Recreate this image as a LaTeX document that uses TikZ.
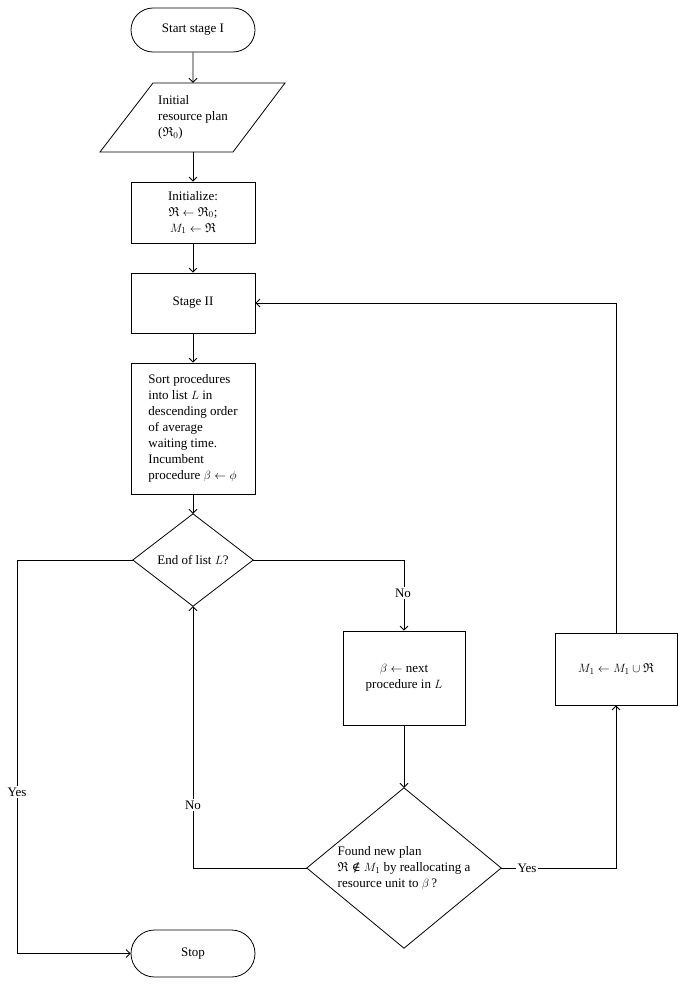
\documentclass[tikz,border=0pt]{standalone}
\usepackage{amssymb}
\usepackage{fontspec}
\setmainfont{Liberation Serif}
\newfontfamily\symfnt{DejaVu Serif}
\usetikzlibrary{arrows.meta,shapes.misc}
\begin{document}
\begin{tikzpicture}[x=1pt,y=-1pt,
  every node/.style={font=\fontsize{13}{16}\selectfont, inner sep=0pt},
  box/.style={draw, line width=0.8pt, minimum width=124pt},
  term/.style={draw, rounded rectangle, line width=0.8pt, minimum width=124pt},
  conn/.style={line width=0.8pt, -{Straight Barb[length=4pt,width=8pt]}},
  plain/.style={line width=0.8pt},
  lbl/.style={fill=white, inner sep=2pt}]
\useasboundingbox[fill=white] (0,0) rectangle (686,985);

\node[term, minimum height=44pt] (start) at (193,30) {Start stage I};
\node[minimum width=132pt, minimum height=69pt, align=left] (plan) at (193,117.5) {Initial\\resource plan\\($\mathfrak{R}_0$)};
\draw[plain] (153,83) -- (285,83) -- (233,152) -- (100,152) -- cycle;
\node[box, minimum height=61pt, align=center] (init) at (193,212.5) {Initialize:\\$\mathfrak{R}\leftarrow\mathfrak{R}_0$;\\$M_1\leftarrow\mathfrak{R}$};
\node[box, minimum height=60pt] (stage2) at (193,303) {Stage II};
\node[box, minimum height=131pt, align=left] (sort) at (193,428.5) {Sort procedures\\into list $L$ in\\descending order\\of average\\waiting time.\\Incumbent\\procedure $\beta\leftarrow\phi$};
\node[minimum width=120pt, minimum height=92pt] (dec1) at (193,560) {End of list $L$?};
\draw[plain] (dec1.north) -- (dec1.east) -- (dec1.south) -- (dec1.west) -- cycle;
\node[box, minimum width=122pt, minimum height=94pt, align=center] (beta) at (404,678) {$\beta\leftarrow$ next\\procedure in $L$};
\node[minimum width=194pt, minimum height=160pt, align=left] (dec2) at (404,868) {Found new plan\\$\mathfrak{R}$ {\symfnt\fontsize{12}{16}\selectfont ∉} $M_1$ by reallocating a\\resource unit to $\beta$\,?};
\draw[plain] (dec2.north) -- (dec2.east) -- (dec2.south) -- (dec2.west) -- cycle;
\node[box, minimum width=122pt, minimum height=72pt] (m1) at (616,669) {$M_1\leftarrow M_1\cup\mathfrak{R}$};
\node[term, minimum height=47pt] (stop) at (193,953.5) {Stop};

\coordinate (lcorner) at (17,560);
\draw[conn] (start) -- (plan);
\draw[conn] (plan) -- (init);
\draw[conn] (init) -- (stage2);
\draw[conn] (stage2) -- (sort);
\draw[conn] (sort) -- (dec1);
\draw[conn] (dec1.west) -- (lcorner) |- (stop.west);
\draw[conn] (dec1.east) -| (beta.north);
\draw[conn] (beta) -- (dec2);
\draw[conn] (dec2.west) -| (dec1.south);
\draw[conn] (dec2.east) -| (m1.south);
\draw[conn] (m1.north) |- (stage2.east);

\node[lbl] (yes1) at (17,792) {Yes};
\node[lbl] (no1) at (403,593) {No};
\node[lbl] (no2) at (193,805) {No};
\node[lbl] (yes2) at (527,868) {Yes};
\end{tikzpicture}
\end{document}
